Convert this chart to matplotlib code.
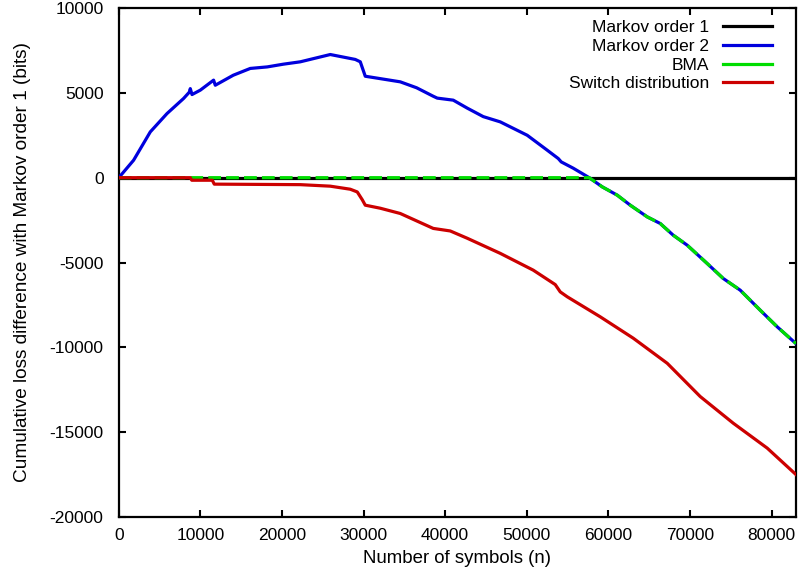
import matplotlib
matplotlib.use("Agg")
import matplotlib.pyplot as plt
from matplotlib.lines import Line2D

plt.rcParams["font.family"] = ["Liberation Sans", "DejaVu Sans"]
plt.rcParams["axes.unicode_minus"] = False

# Markov order 1 is the reference, so its difference is zero everywhere
n_markov1 = [0, 83000]
loss_markov1 = [0, 0]

n_markov2 = [0, 1814, 3860, 5907, 7941, 8640, 8762, 8971, 9990, 11618, 11826,
             14032, 16115, 18198, 20159, 22242, 25919, 28983, 29596, 30208,
             34497, 36500, 38541, 39031, 40992, 42708, 44669, 46752, 50060,
             52511, 53859, 54227, 55697, 57658, 59251, 61090, 62683, 64766,
             66359, 67952, 69668, 72119, 74080, 76163, 78614, 80697, 83000]
loss_markov2 = [0, 1030, 2700, 3780, 4670, 5040, 5250, 4900, 5160, 5750, 5450,
                6040, 6440, 6530, 6690, 6830, 7260, 6970, 6830, 5980,
                5650, 5300, 4800, 4690, 4570, 4100, 3600, 3290, 2500,
                1620, 1130, 930, 560, 0, -540, -1030, -1620, -2310,
                -2700, -3390, -3980, -5060, -5940, -6630, -7810, -8790, -9780]

n_bma = [0, 57658, 59251, 61090, 62683, 64766, 66359, 67952, 69668, 72119,
         74080, 76163, 78614, 80697, 83000]
loss_bma = [0, 0, -540, -1030, -1620, -2310, -2700, -3390, -3980, -5060,
            -5940, -6630, -7810, -8790, -9780]

n_switch = [0, 8762, 8946, 11459, 11703, 22242, 25919, 28370, 29228, 29840,
            30208, 32047, 34497, 38541, 40624, 42708, 46752, 50796, 53492,
            54105, 54963, 59007, 63051, 67218, 71262, 75306, 79472, 83000]
loss_switch = [0, 0, -150, -150, -380, -410, -500, -680, -840, -1300,
               -1620, -1800, -2110, -2990, -3140, -3570, -4460, -5450, -6300,
               -6730, -7020, -8200, -9460, -10940, -12900, -14470, -15940, -17500]

labels = ["Markov order 1", "Markov order 2", "BMA", "Switch distribution"]
colors = ["#000000", "#0000dd", "#00dd00", "#cc0000"]

fig = plt.figure(figsize=(8, 5.74), dpi=100)
ax = fig.add_axes([0.1485, 0.0993, 0.8465, 0.8867])

lw = 2.3
ax.plot(n_markov1, loss_markov1, color=colors[0], lw=lw, zorder=2)
ax.plot(n_markov2, loss_markov2, color=colors[1], lw=lw, zorder=3)
ax.plot(n_bma, loss_bma, color=colors[2], lw=lw, zorder=4,
        dashes=(4.0, 1.6), solid_capstyle="butt", dash_capstyle="butt")
ax.plot(n_switch, loss_switch, color=colors[3], lw=lw, zorder=5)

ax.set_xlim(0, 83000)
ax.set_ylim(-20000, 10000)
ax.set_xticks(range(0, 80001, 10000))
ax.set_yticks(range(-20000, 10001, 5000))
ax.tick_params(direction="in", length=5, width=1.5, top=True, right=True,
               labelsize=12.5)
ax.tick_params(axis="x", pad=8)
ax.tick_params(axis="y", pad=11)
for s in ax.spines.values():
    s.set_linewidth(1.6)

ax.set_xlabel("Number of symbols (n)", fontsize=13.4, labelpad=5)
ax.set_ylabel("Cumulative loss difference with Markov order 1 (bits)",
              fontsize=13.7, labelpad=13)

handles = [Line2D([], [], color=c, lw=lw) for c in colors]
ax.legend(handles, labels, loc="upper right", frameon=False, markerfirst=False,
          fontsize=12.5, handlelength=2.85, handletextpad=0.8,
          labelspacing=0.2, borderaxespad=0.3, bbox_to_anchor=(0.983, 1.0))

fig.savefig("out.png", dpi=100)
